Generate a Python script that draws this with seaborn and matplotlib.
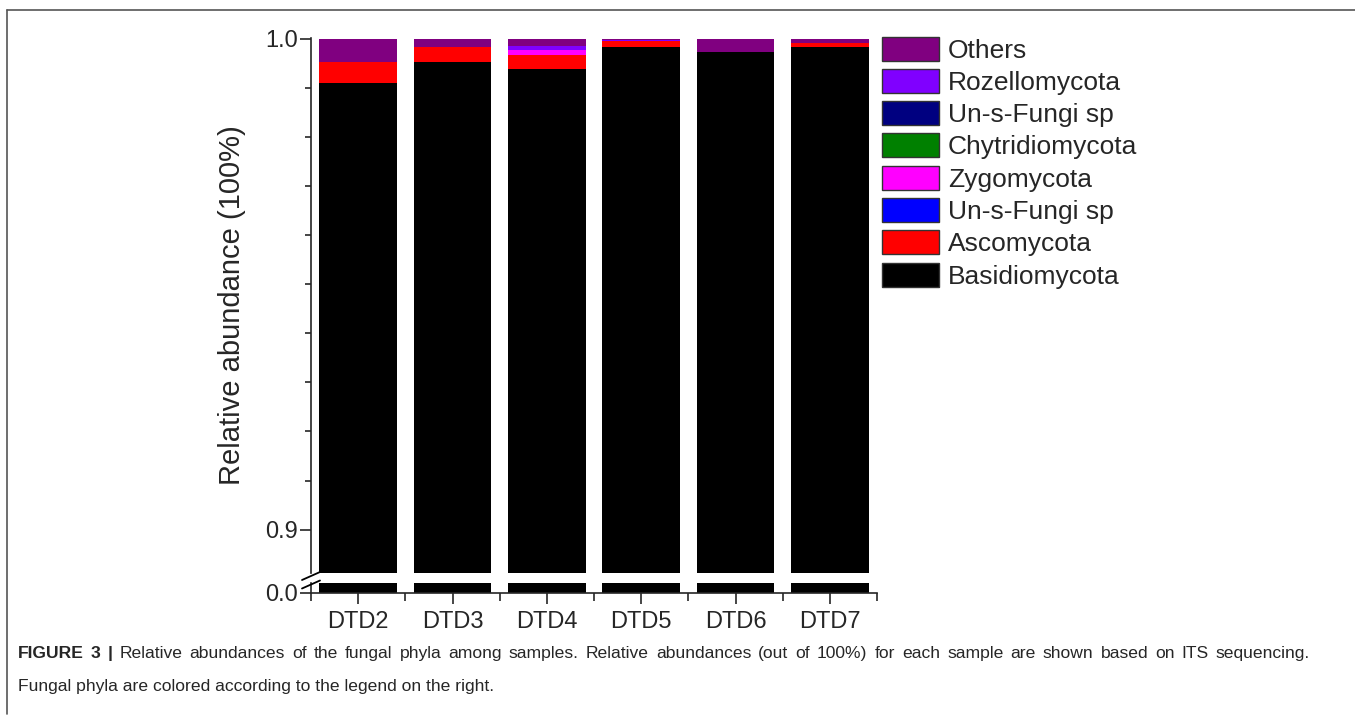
import numpy as np
import pandas as pd
import matplotlib
matplotlib.use("Agg")
import matplotlib.pyplot as plt
from matplotlib.patches import Patch
from matplotlib.lines import Line2D
from matplotlib.ticker import MultipleLocator, FixedLocator
import seaborn as sns

# ---------------- data ----------------
samples = ["DTD2", "DTD3", "DTD4", "DTD5", "DTD6", "DTD7"]
basidiomycota = [0.9910, 0.9952, 0.9938, 0.9983, 0.9973, 0.9982]
ascomycota = [0.0042, 0.0031, 0.0029, 0.0011, 0.0000, 0.0009]
unsfungi_blue = [0.0, 0.0, 0.0, 0.0, 0.0, 0.0]
zygomycota = [0.0, 0.0, 0.0010, 0.0, 0.0, 0.0]
chytridiomycota = [0.0, 0.0, 0.0, 0.0, 0.0, 0.0]
unsfungi_navy = [0.0, 0.0, 0.0, 0.0, 0.0, 0.0]
rozellomycota = [0.0, 0.0, 0.0008, 0.0003, 0.0, 0.0]
others = [0.0048, 0.0017, 0.0015, 0.0003, 0.0027, 0.0009]

# stack order bottom -> top
layer_names = ["Basidiomycota", "Ascomycota", "Un-s-Fungi sp", "Zygomycota",
               "Chytridiomycota", "Un-s-Fungi sp", "Rozellomycota", "Others"]
layer_values = [basidiomycota, ascomycota, unsfungi_blue, zygomycota,
                chytridiomycota, unsfungi_navy, rozellomycota, others]
layer_colors = ["#000000", "#FF0000", "#0000FF", "#FF00FF",
                "#008000", "#000080", "#8000FF", "#800080"]

y_major = [0.9, 1.0]
y_major_labels = ["0.9", "1.0"]

caption_bold_words = ["FIGURE", "3", "|"]
caption_line1 = ("Relative abundances of the fungal phyla among samples. Relative abundances "
                 "(out of 100%) for each sample are shown based on ITS sequencing.")
caption_line2 = "Fungal phyla are colored according to the legend on the right."

# ---------------- style ----------------
sns.set_style("ticks")
plt.rcParams["font.family"] = ["Liberation Sans", "DejaVu Sans"]

W, H = 1355, 722
fig = plt.figure(figsize=(W / 100, H / 100), dpi=100)

def fx(px):
    return px / W

def fy(py):
    return 1 - py / H

ax_top = fig.add_axes([fx(311), fy(573.3), fx(877) - fx(311), fy(37.7) - fy(573.3)])
ax_bot = fig.add_axes([fx(311), fy(592.5), fx(877) - fx(311), fy(583.3) - fy(592.5)])

cum = np.cumsum(np.array(layer_values), axis=0)
bar_width = 0.82

for ax in (ax_top, ax_bot):
    for i in range(len(layer_names) - 1, -1, -1):
        df = pd.DataFrame({"sample": samples, "value": cum[i]})
        sns.barplot(data=df, x="sample", y="value", order=samples, color=layer_colors[i],
                    saturation=1, width=bar_width, errorbar=None, linewidth=0, ax=ax)
    ax.set_xlim(-0.5, len(samples) - 0.5)
    ax.set_xlabel("")
    ax.set_ylabel("")
    for s in ("top", "right"):
        ax.spines[s].set_visible(False)
    ax.spines["left"].set_linewidth(1.2)
    ax.spines["bottom"].set_linewidth(1.2)
    ax.patch.set_alpha(0)

# upper axis
top_per_px = 0.1 / (529.7 - 38.5)
ax_top.set_ylim(0.9 - (573.3 - 529.7) * top_per_px, 1.0 + 0.8 * top_per_px)
ax_top.spines["bottom"].set_visible(False)
ax_top.yaxis.set_major_locator(FixedLocator(y_major))
ax_top.set_yticklabels(y_major_labels)
ax_top.yaxis.set_minor_locator(MultipleLocator(0.01))
ax_top.tick_params(axis="y", which="major", length=8, width=1.2, labelsize=17, pad=1.5, direction="out", left=True)
ax_top.tick_params(axis="y", which="minor", length=4.5, width=1.2, direction="out", left=True)
ax_top.tick_params(axis="x", bottom=False, labelbottom=False)
ax_top.set_ylabel("Relative abundance (100%)", fontsize=21, labelpad=14)

# lower axis
ax_bot.set_ylim(0, 0.02)
ax_bot.yaxis.set_major_locator(FixedLocator([0.0]))
ax_bot.set_yticklabels(["0.0"])
ax_bot.tick_params(axis="y", which="major", length=8, width=1.2, labelsize=17, pad=1.5, direction="out", left=True)
ax_bot.xaxis.set_minor_locator(FixedLocator(np.arange(-0.5, len(samples), 1.0)))
ax_bot.tick_params(axis="x", which="major", length=8, width=1.2, labelsize=17, pad=5, direction="out", bottom=True)
ax_bot.tick_params(axis="x", which="minor", length=6, width=1.2, direction="out", bottom=True)
ax_bot.set_xticks(range(len(samples)))
ax_bot.set_xticklabels(samples)

# axis-break marks
for yc in (576.0, 584.5):
    fig.add_artist(Line2D([fx(302), fx(320)], [fy(yc + 4), fy(yc - 4)], color="black", lw=1.3))

# legend
handles = [Patch(facecolor=c, edgecolor="#333333", linewidth=1.0)
           for c in layer_colors[::-1]]
labels = layer_names[::-1]
fig.legend(handles, labels, loc="upper left", bbox_to_anchor=(fx(882), fy(36.5)),
           frameon=False, fontsize=19, handlelength=2.15, handleheight=1.03,
           labelspacing=0.235, handletextpad=0.35, borderpad=0, borderaxespad=0)

# figure frame (top and left rules)
fig.add_artist(Line2D([fx(7), fx(1355)], [fy(10), fy(10)], color="#555555", lw=1.2))
fig.add_artist(Line2D([fx(7), fx(7)], [fy(10), fy(714)], color="#555555", lw=1.2))

# caption: first line justified between x=18 and x=1310
renderer = fig.canvas.get_renderer()
cap_size = 12.6
words = [(w, "bold") for w in caption_bold_words] + [(w, "normal") for w in caption_line1.split()]
widths = []
for w, weight in words:
    t = fig.text(0, 0, w, fontsize=cap_size, fontweight=weight)
    widths.append(t.get_window_extent(renderer).width)
    t.remove()
x_left, x_right = 18.0, 1310.0
gap = (x_right - x_left - sum(widths)) / (len(words) - 1)
x = x_left
for (w, weight), wd in zip(words, widths):
    fig.text(fx(x), fy(658), w, fontsize=cap_size, fontweight=weight, va="baseline", ha="left")
    x += wd + gap
fig.text(fx(18), fy(691), caption_line2, fontsize=cap_size, va="baseline", ha="left")

fig.savefig("out.png", dpi=100)
